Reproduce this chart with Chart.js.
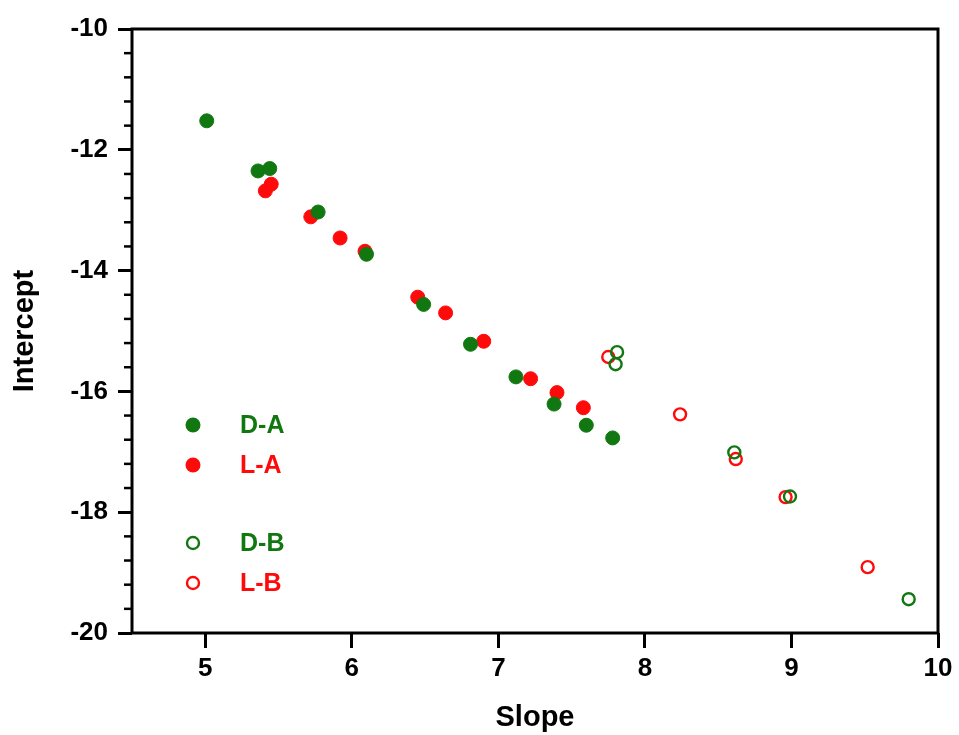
<!DOCTYPE html>
<html>
<head>
<meta charset="utf-8">
<script src="https://cdn.jsdelivr.net/npm/chart.js@4"></script>
<style>
  html, body { margin: 0; padding: 0; background: #fff; }
  #wrap { width: 959px; height: 735px; }
</style>
</head>
<body>
<div id="wrap"><canvas id="chart" width="959" height="735"></canvas></div>
<script>
// slope / intercept pairs per group
const daSlope = [5.01, 5.36, 5.44, 5.77, 6.10, 6.49, 6.81, 7.12, 7.38, 7.60, 7.78];
const daIntercept = [-11.52, -12.35, -12.31, -13.03, -13.73, -14.56, -15.22, -15.76, -16.21, -16.56, -16.77];

const laSlope = [5.41, 5.45, 5.72, 5.92, 6.09, 6.45, 6.64, 6.90, 7.22, 7.40, 7.58];
const laIntercept = [-12.68, -12.57, -13.11, -13.46, -13.68, -14.44, -14.70, -15.17, -15.79, -16.02, -16.27];

const dbSlope = [7.81, 7.80, 8.61, 8.99, 9.80];
const dbIntercept = [-15.35, -15.55, -17.01, -17.74, -19.44];

const lbSlope = [7.75, 8.24, 8.62, 8.96, 9.52];
const lbIntercept = [-15.43, -16.38, -17.12, -17.75, -18.91];

const seriesNames = ["D-A", "L-A", "D-B", "L-B"];
const xTicks = [5, 6, 7, 8, 9, 10];

const GREEN = "#117811";
const RED = "#ff0a0a";
const FONT = "'Liberation Sans', Arial, sans-serif";

const toPoints = (xs, ys) => xs.map((x, i) => ({ x: x, y: ys[i] }));

// frame, minor y ticks and the in-plot legend
const decorations = {
  id: "decorations",
  afterDraw(chart) {
    const ctx = chart.ctx;
    const a = chart.chartArea;
    const y = chart.scales.y;
    ctx.save();
    ctx.strokeStyle = "#000";
    ctx.lineWidth = 3;
    ctx.strokeRect(a.left, a.top, a.right - a.left, a.bottom - a.top);

    ctx.lineWidth = 2.5;
    for (let v = -20; v <= -10.001; v += 0.4) {
      const r = Math.round(v * 10) / 10;
      if (Math.abs(r % 2) < 1e-6) continue;
      const py = y.getPixelForValue(r);
      ctx.beginPath();
      ctx.moveTo(a.left - 8, py);
      ctx.lineTo(a.left, py);
      ctx.stroke();
    }

    const rows = [396, 436, 514, 554];
    const mx = a.left + 61;
    ctx.font = "bold 25px " + FONT;
    ctx.textBaseline = "middle";
    chart.data.datasets.forEach((ds, i) => {
      const cy = a.top + rows[i];
      ctx.beginPath();
      if (ds.filled) {
        ctx.arc(mx, cy, 7.5, 0, Math.PI * 2);
        ctx.fillStyle = ds.borderColor;
        ctx.fill();
      } else {
        ctx.arc(mx, cy, 6, 0, Math.PI * 2);
        ctx.lineWidth = 2.4;
        ctx.strokeStyle = ds.borderColor;
        ctx.stroke();
      }
      ctx.fillStyle = ds.borderColor;
      ctx.fillText(ds.label, a.left + 108, cy + 1);
    });
    ctx.restore();
  }
};

const filled = (label, xs, ys, color) => ({
  label: label, filled: true, data: toPoints(xs, ys),
  backgroundColor: color, borderColor: color, borderWidth: 1, pointRadius: 7
});
const open = (label, xs, ys, color) => ({
  label: label, filled: false, data: toPoints(xs, ys),
  backgroundColor: "rgba(0,0,0,0)", borderColor: color, borderWidth: 2.4, pointRadius: 6
});

new Chart(document.getElementById("chart"), {
  type: "scatter",
  data: {
    datasets: [
      filled(seriesNames[0], daSlope, daIntercept, GREEN),
      filled(seriesNames[1], laSlope, laIntercept, RED),
      open(seriesNames[2], dbSlope, dbIntercept, GREEN),
      open(seriesNames[3], lbSlope, lbIntercept, RED)
    ]
  },
  options: {
    responsive: false,
    animation: false,
    layout: { padding: { top: 29, right: 21, left: 0, bottom: 0 } },
    plugins: { legend: { display: false }, tooltip: { enabled: false } },
    scales: {
      x: {
        type: "linear", min: 4.5, max: 10,
        afterBuildTicks: s => { s.ticks = xTicks.map(v => ({ value: v })); },
        afterFit: s => { s.height = 102; },
        border: { display: false },
        grid: { drawOnChartArea: false, drawTicks: true, tickLength: 15, tickColor: "#000", tickWidth: 3 },
        ticks: { color: "#000", font: { family: FONT, size: 26, weight: "bold" }, padding: 5, maxRotation: 0 },
        title: { display: true, text: "Slope", color: "#000", font: { family: FONT, size: 29, weight: "bold" }, padding: { top: 0, bottom: 0 } }
      },
      y: {
        type: "linear", min: -20, max: -10,
        ticks: { stepSize: 2, color: "#000", font: { family: FONT, size: 26, weight: "bold" }, padding: 10 },
        afterFit: s => { s.width = 132; },
        border: { display: false },
        grid: { drawOnChartArea: false, drawTicks: true, tickLength: 14, tickColor: "#000", tickWidth: 3 },
        title: { display: true, text: "Intercept", color: "#000", font: { family: FONT, size: 29, weight: "bold" }, padding: { top: 8, bottom: 0 } }
      }
    }
  },
  plugins: [decorations]
});
</script>
</body>
</html>
